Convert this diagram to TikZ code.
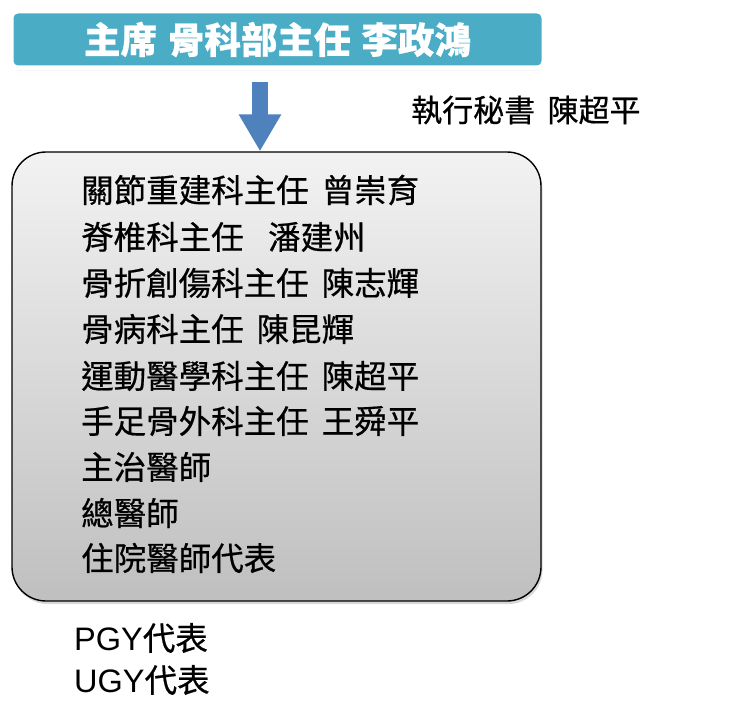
\documentclass[tikz,border=0pt]{standalone}
\usepackage{fontspec}
\setmainfont{Noto Sans CJK TC}[FakeBold=0.6]
\newfontfamily\latinfont{Liberation Sans}
\usetikzlibrary{shadows,arrows.meta}
\definecolor{teal1}{HTML}{4BACC6}
\definecolor{arrowblue}{HTML}{4F81BD}
\newcommand{\cjksp}{\hspace{0.4em}}
\tikzset{
  txt/.style={anchor=west,inner sep=0pt,font=\fontsize{32.5}{32.5}\selectfont},
}
\begin{document}
\begin{tikzpicture}[x=1pt,y=-1pt]
\useasboundingbox (0,0) rectangle (756,709);
\fill[white] (0,0) rectangle (756,709);
% top box
\node[draw=white,line width=5pt,fill=teal1,rounded corners=7pt,
      minimum width=533pt,minimum height=57pt,
      drop shadow={shadow xshift=0.5pt,shadow yshift=-2.5pt,opacity=0.3},
      text=white,font=\fontsize{36.5}{36.5}\selectfont\bfseries]
      (top) at (277.5,39.5) {主席\hspace{0.3em}骨科部主任\hspace{0.3em}李政鴻};
% main box
\node[draw=black,line width=1.4pt,rounded corners=34pt,
      top color=gray!10,bottom color=gray!50,
      minimum width=529pt,minimum height=449pt,
      drop shadow={shadow xshift=1.5pt,shadow yshift=-3pt,opacity=0.3}]
      (box) at (276.5,376.5) {};
% arrow
\coordinate (a1) at (260,82);
\draw[arrowblue,line width=16pt,-{Triangle[width=40pt,length=37pt]}]
  (a1) -- (a1 |- box.north);
% side text
\node[txt,font=\fontsize{31}{31}\selectfont] (sec) at (411,110) {執行秘書\cjksp 陳超平};
% list
\node[txt] (l1) at (81,190) {關節重建科主任\cjksp 曾崇育};
\node[txt] (l2) at (81,237) {脊椎科主任\hspace{0.75em}潘建州};
\node[txt] (l3) at (81,283) {骨折創傷科主任\cjksp 陳志輝};
\node[txt] (l4) at (81,329) {骨病科主任\cjksp 陳昆輝};
\node[txt] (l5) at (81,376) {運動醫學科主任\cjksp 陳超平};
\node[txt] (l6) at (81,421) {手足骨外科主任\cjksp 王舜平};
\node[txt] (l7) at (81,467) {主治醫師};
\node[txt] (l8) at (81,513) {總醫師};
\node[txt] (l9) at (81,558) {住院醫師代表};
% bottom
\node[txt] (pgy) at (74,638) {{\latinfont PGY}代表};
\node[txt] (ugy) at (74,680) {{\latinfont UGY}代表};
\end{tikzpicture}
\end{document}
